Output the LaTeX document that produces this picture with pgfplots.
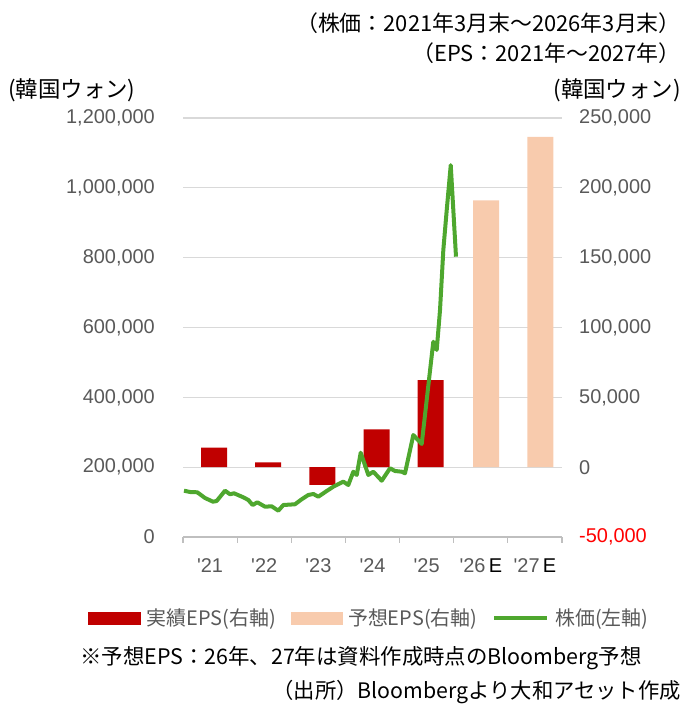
\documentclass[border=0pt]{standalone}
\usepackage{pgfplots}
\pgfplotsset{compat=1.18}
\usepackage{fontspec}
\setmainfont{Noto Sans CJK JP}
\newfontfamily\tickfont{Liberation Sans}
\definecolor{actualred}{HTML}{C00000}
\definecolor{fcst}{HTML}{F8CBAD}
\definecolor{pricegreen}{HTML}{4EA72E}
\definecolor{tickgray}{HTML}{595959}
\definecolor{gridgray}{HTML}{D9D9D9}
\definecolor{axisgray}{HTML}{BFBFBF}

\pgfplotstableread{
x y
0.574 14000
1.574 3500
2.574 -12700
3.574 27100
4.574 62400
}\actualtbl
\pgfplotstableread{
x y
5.6 191000
6.6 236400
}\fcsttbl
\pgfplotstableread{
x y
0.018 132600
0.129 128900
0.264 128000
0.406 111700
0.554 101100
0.622 103100
0.776 132600
0.868 122300
0.942 125200
1.114 113700
1.206 106000
1.287 91600
1.372 99400
1.515 86800
1.638 87900
1.760 75300
1.853 91600
2.069 93700
2.192 108000
2.314 120300
2.407 123200
2.499 115400
2.654 131700
2.776 144000
2.961 158400
3.053 148900
3.146 187000
3.209 177600
3.282 241400
3.423 177600
3.515 187000
3.670 161200
3.823 196800
3.916 189000
4.040 187000
4.100 182400
4.254 292000
4.409 266400
4.501 392400
4.623 559300
4.686 535600
4.747 650100
4.808 822000
4.871 936500
4.945 1065000
5.042 802800
}\pricetbl

\begin{document}
\begin{tikzpicture}[x=1bp,y=1bp]
\path[use as bounding box] (0,0) rectangle (684,704);

% EPS bars, right axis
\begin{axis}[
  at={(183bp,167bp)}, anchor=south west,
  width=379bp, height=419bp, scale only axis,
  xmin=0, xmax=7, ymin=-50000, ymax=250000,
  scaled y ticks=false, scaled x ticks=false,
  axis x line*=bottom, axis y line*=right,
  y axis line style={draw=none},
  x axis line style={draw=axisgray, line width=1.2bp, -},
  major tick length=0pt,
  ytick={-50000,0,50000,100000,150000,200000,250000},
  yticklabels={{\textcolor{red}{-50,000}},0,{50,000},{100,000},{150,000},{200,000},{250,000}},
  yticklabel style={font=\tickfont\fontsize{20}{24}\selectfont, text=tickgray, anchor=west, inner sep=0pt, xshift=17bp},
  ymajorgrids, grid style={draw=gridgray, line width=1.2bp},
  xtick={0.5,1.5,2.5,3.5,4.5,5.5,6.5},
  xticklabels={'21,'22,'23,'24,'25,{'26\,{\color{black}E}},{'27\,{\color{black}E}}},
  xticklabel style={font=\tickfont\fontsize{20}{24}\selectfont, text=tickgray, anchor=north, inner sep=0pt, yshift=-21bp},
  extra x ticks={0,1,2,3,4,5,6,7},
  extra x tick labels={},
  extra x tick style={major tick length=6bp, tick align=outside, tick style={draw=axisgray, line width=1.2bp}, xmajorgrids=false},
  ybar, bar width=26bp, bar shift=0pt,
  clip=false,
]
\addplot[fill=actualred, draw=none] table[x=x,y=y]{\actualtbl};
\addplot[fill=fcst, draw=none] table[x=x,y=y]{\fcsttbl};
\end{axis}

% Price line, left axis
\begin{axis}[
  at={(183bp,167bp)}, anchor=south west,
  width=379bp, height=419bp, scale only axis,
  xmin=0, xmax=7, ymin=0, ymax=1200000,
  scaled y ticks=false, scaled x ticks=false,
  axis x line=none, axis y line*=left,
  y axis line style={draw=none},
  major tick length=0pt,
  ytick={0,200000,400000,600000,800000,1000000,1200000},
  yticklabels={0,{200,000},{400,000},{600,000},{800,000},{1,000,000},{1,200,000}},
  yticklabel style={font=\tickfont\fontsize{20}{24}\selectfont, text=tickgray, anchor=east, inner sep=0pt, xshift=-28bp},
  clip=false,
  legend style={at={(-0.2507,-0.1933)}, anchor=west, draw=none, fill=none, inner sep=0pt,
    font=\fontsize{20}{24}\selectfont, text=tickgray,
    /tikz/every odd column/.append style={column sep=4bp},
    /tikz/every even column/.append style={column sep=13bp}},
  legend columns=3,
]
\addplot[pricegreen, line width=4bp, line join=round, forget plot] table[x=x,y=y]{\pricetbl};
\addlegendimage{legend image code/.code={\fill[actualred] (0bp,-6bp) rectangle (52bp,6bp);}}
\addlegendentry{実績EPS(右軸)}
\addlegendimage{legend image code/.code={\fill[fcst] (0bp,-6bp) rectangle (51bp,6bp);}}
\addlegendentry{予想EPS(右軸)}
\addlegendimage{legend image code/.code={\draw[pricegreen, line width=4bp] (0bp,0bp) -- (53bp,0bp);}}
\addlegendentry{株価(左軸)}
\end{axis}

\node[anchor=east, inner sep=0pt] at (681,681) {\fontsize{22}{26}\selectfont （株価：2021年3月末～2026年3月末）};
\node[anchor=east, inner sep=0pt] at (681,651) {\fontsize{22}{26}\selectfont （EPS：2021年～2027年）};
\node[anchor=west, inner sep=0pt] at (8,614) {\fontsize{22.5}{27}\selectfont (韓国ウォン)};
\node[anchor=east, inner sep=0pt] at (681,614) {\fontsize{22.5}{27}\selectfont (韓国ウォン)};
\node[anchor=west, inner sep=0pt] at (80,46) {\fontsize{21.5}{26}\selectfont ※予想EPS：26年、27年は資料作成時点のBloomberg予想};
\node[anchor=east, inner sep=0pt] at (681,12) {\fontsize{21.4}{26}\selectfont （出所）Bloombergより大和アセット作成};
\end{tikzpicture}
\end{document}
